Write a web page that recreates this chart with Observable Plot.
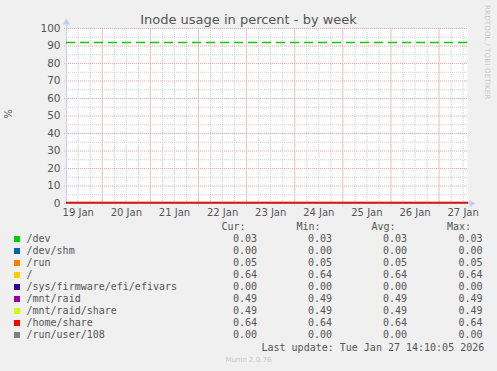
<!DOCTYPE html>
<html>
<head>
<meta charset="utf-8">
<script src="https://cdn.jsdelivr.net/npm/d3@7"></script>
<script src="https://cdn.jsdelivr.net/npm/@observablehq/plot@0.6"></script>
<style>
  html, body { margin: 0; padding: 0; background: #f0f0f0; }
  #wrap { position: relative; width: 497px; height: 371px; overflow: hidden; background: #f0f0f0; }
  #wrap svg { position: absolute; left: 0; top: 0; }
  .t { position: absolute; white-space: pre; color: #555; }
  .mono { font-family: "DejaVu Sans Mono", monospace; font-size: 10px; line-height: 12px; }
  .sw { position: absolute; width: 6px; height: 6px; }
</style>
</head>
<body>
<div id="wrap"></div>
<script>
// ---- data ----
const series = ["/dev", "/dev/shm", "/run", "/", "/sys/firmware/efi/efivars", "/mnt/raid", "/mnt/raid/share", "/home/share", "/run/user/108"];
const colors = ["#00cc00", "#0066b3", "#ff8000", "#ffcc00", "#330099", "#990099", "#ccff00", "#ff0000", "#808080"];
const curVals = [0.03, 0.00, 0.05, 0.64, 0.00, 0.49, 0.49, 0.64, 0.00];
const minVals = [0.03, 0.00, 0.05, 0.64, 0.00, 0.49, 0.49, 0.64, 0.00];
const avgVals = [0.03, 0.00, 0.05, 0.64, 0.00, 0.49, 0.49, 0.64, 0.00];
const maxVals = [0.03, 0.00, 0.05, 0.64, 0.00, 0.49, 0.49, 0.64, 0.00];
const warningLevel = 92;
const timeRange = ["2026-01-19T06:10:00Z", "2026-01-27T14:10:00Z"];
const dayLabels = ["19 Jan", "20 Jan", "21 Jan", "22 Jan", "23 Jan", "24 Jan", "25 Jan", "26 Jan", "27 Jan"];
const yTicks = [0, 10, 20, 30, 40, 50, 60, 70, 80, 90, 100];
const yMinor = [5, 15, 25, 35, 45, 55, 65, 75, 85, 95];
const title = "Inode usage in percent - by week";
const lastUpdate = "Last update: Tue Jan 27 14:10:05 2026";
const version = "Munin 2.0.76";
const drawOrder = [0, 1, 2, 4, 8, 6, 5, 3, 7];

// ---- derived ----
const t0 = new Date(timeRange[0]), t1 = new Date(timeRange[1]);
const dayStarts = d3.utcDay.range(d3.utcDay.ceil(t0), t1);
const minorX = d3.utcHour.every(6).range(t0, t1).filter(d => d > t0);
const noonTicks = d3.utcDay.range(d3.utcDay.floor(t0), t1).map(d => d3.utcHour.offset(d, 12));
const labelOf = new Map(noonTicks.map((d, i) => [+d, dayLabels[i]]));

const lineData = drawOrder.flatMap(i => [
  {name: series[i], color: colors[i], t: t0, v: curVals[i], w: i === 7 ? 1.5 : 1},
  {name: series[i], color: colors[i], t: t1, v: curVals[i], w: i === 7 ? 1.5 : 1}
]);

const chart = Plot.plot({
  width: 497, height: 371,
  marginLeft: 66, marginRight: 30, marginTop: 28, marginBottom: 168,
  style: {background: "transparent", fontFamily: "DejaVu Sans", fontSize: "9.5px", color: "#555", overflow: "visible"},
  x: {type: "utc", domain: [t0, t1], axis: null},
  y: {domain: [0, 100], axis: null},
  color: {type: "identity"},
  marks: [
    Plot.frame({fill: "white", stroke: null}),
    Plot.ruleX(minorX, {stroke: "#d2d2d2", strokeDasharray: "1,1"}),
    Plot.ruleY(yMinor, {stroke: "#d2d2d2", strokeDasharray: "1,1", x1: t0, x2: t1}),
    Plot.ruleX(dayStarts, {stroke: "#eaa8a8", strokeDasharray: "1,1", y1: -1.5, y2: 100}),
    Plot.ruleY(yTicks, {stroke: "#eaa8a8", strokeDasharray: "1,1", x1: d3.utcHour.offset(t0, -1), x2: d3.utcHour.offset(t1, 0.5)}),
    Plot.ruleX([t0], {y1: 0, y2: 102, stroke: "#c8c8f0"}),
    Plot.ruleY([0], {x1: t0, x2: d3.utcHour.offset(t1, 1.5), stroke: "#c8c8f0"}),
    Plot.dot([0], {x: () => t0, y: () => 103.5, symbol: "triangle", r: 2.6, fill: "#c8c8f0", stroke: null}),
    Plot.dot([0], {x: () => t1, y: () => 0, dx: 4, symbol: "triangle", rotate: 90, r: 2.6, fill: "#c8c8f0", stroke: null}),
    Plot.ruleY([warningLevel], {x1: t0, x2: t1, stroke: "#00cc00", strokeWidth: 1.4, strokeDasharray: "9,5"}),
    Plot.line(lineData, {x: "t", y: "v", z: "name", stroke: "color", strokeWidth: "w"}),
    Plot.axisY(yTicks, {tickSize: 0, tickPadding: 6, fill: "#555", fontSize: 10.5, label: null}),
    Plot.axisX(noonTicks, {tickSize: 0, tickPadding: 5, fill: "#555", fontSize: 10, label: null, tickFormat: d => labelOf.get(+d)})
  ]
});
const wrap = document.getElementById("wrap");
wrap.appendChild(chart);

function addText(txt, cls, style) {
  const el = document.createElement("div");
  el.className = "t " + cls;
  el.textContent = txt;
  Object.assign(el.style, style);
  wrap.appendChild(el);
  return el;
}
// title
addText(title, "", {left: "0px", width: "497px", textAlign: "center", top: "12px", fontFamily: "DejaVu Sans", fontSize: "13px", lineHeight: "16px", color: "#555"});
// y label
addText("%", "", {left: "4px", top: "108px", fontFamily: "DejaVu Sans", fontSize: "10px", lineHeight: "12px", transform: "rotate(-90deg)", transformOrigin: "center"});
// side credit
addText("RRDTOOL / TOBI OETIKER", "", {left: "482px", top: "5px", fontFamily: "DejaVu Sans", fontSize: "7px", letterSpacing: "0.2px", color: "#c8c8c8", writingMode: "vertical-rl", lineHeight: "9px"});

// legend headers
const colLeft = [233, 308, 383, 458.5];
["Cur:", "Min:", "Avg:", "Max:"].forEach((h, j) => addText(h, "mono", {left: (colLeft[j] - 11.5) + "px", top: "221px"}));
const cols = [curVals, minVals, avgVals, maxVals];
series.forEach((s, i) => {
  const cy = 239.3 + 11.92 * i;
  const sw = document.createElement("div");
  sw.className = "sw";
  Object.assign(sw.style, {left: "14px", top: (cy - 3) + "px", background: colors[i]});
  wrap.appendChild(sw);
  addText(s, "mono", {left: "26.5px", top: (cy - 6) + "px"});
  cols.forEach((arr, j) => addText(arr[i].toFixed(2), "mono", {left: colLeft[j] + "px", top: (cy - 6) + "px"}));
});
addText(lastUpdate, "mono", {left: "261.5px", top: "341.5px"});
addText(version, "", {left: "0px", width: "497px", textAlign: "center", top: "356px", fontFamily: "DejaVu Sans", fontSize: "7px", lineHeight: "9px", color: "#c8c8c8"});
</script>
</body>
</html>
